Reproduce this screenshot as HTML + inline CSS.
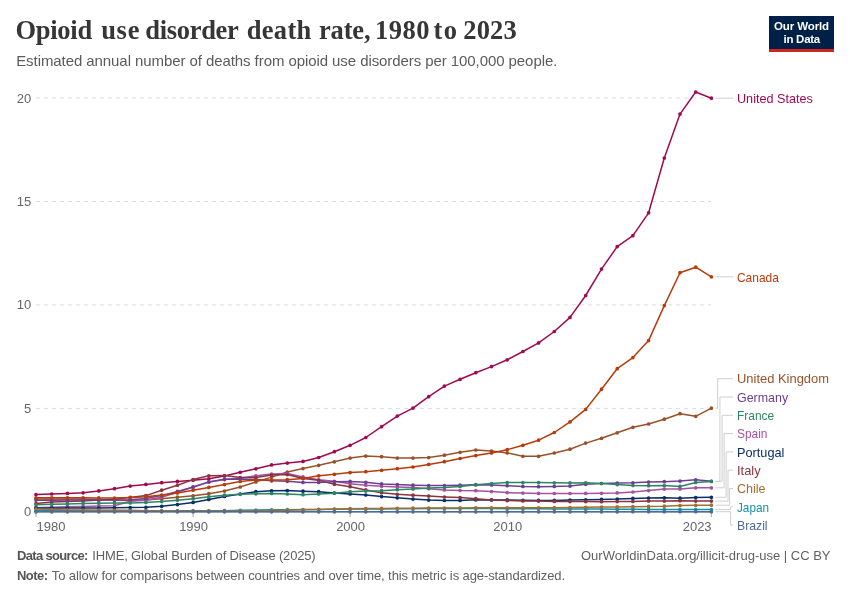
<!DOCTYPE html>
<html lang="en">
<head>
<meta charset="utf-8">
<title>Opioid use disorder death rate, 1980 to 2023</title>
<style>
html,body{margin:0;padding:0;background:#fff;}
body{width:850px;height:600px;overflow:hidden;position:relative;font-family:"Liberation Sans",sans-serif;}
#title{position:absolute;left:0;top:13px;width:700px;height:34px;margin:0;font-family:"Liberation Serif",serif;font-weight:700;font-size:26.5px;line-height:34px;color:#363636;white-space:nowrap;}
#title span{position:absolute;top:0;white-space:nowrap;}
#sub{position:absolute;left:16.2px;top:51.2px;margin:0;font-size:15px;line-height:20px;color:#5b5b5b;white-space:nowrap;letter-spacing:-0.075px;}
#logo{position:absolute;left:769px;top:16px;width:65px;height:36px;background:linear-gradient(to bottom,#002147 0,#002147 33px,#ce261e 33px,#ce261e 36px);box-sizing:border-box;color:#fff;font-weight:700;font-size:11.5px;line-height:12.3px;padding-top:4.4px;white-space:nowrap;}
#logo span{position:absolute;display:block;}
#l1{left:5px;top:4.4px;letter-spacing:-0.11px;}
#l2{left:14.5px;top:16.7px;letter-spacing:-0.27px;}
svg{position:absolute;left:0;top:0;}
.ax{font-family:"Liberation Sans",sans-serif;font-size:13px;fill:#666;}
.lb{font-family:"Liberation Sans",sans-serif;font-size:13px;}
.ft{position:absolute;margin:0;font-size:13px;line-height:16px;color:#616161;white-space:nowrap;}
.ft b{font-weight:700;color:#555;}
</style>
</head>
<body>
<h1 id="title"><span style="left:15.50px;letter-spacing:-0.288px">Opioid</span> <span style="left:101.16px;letter-spacing:0.720px">use</span> <span style="left:145.26px;letter-spacing:-0.309px">disorder</span> <span style="left:246.84px;letter-spacing:0.270px">death</span> <span style="left:319.00px;letter-spacing:-0.180px">rate,</span> <span style="left:375.10px;letter-spacing:0.480px">1980</span> <span style="left:433.42px;letter-spacing:1.440px">to</span> <span style="left:463.34px;letter-spacing:0.120px">2023</span></h1>
<p id="sub">Estimated annual number of deaths from opioid use disorders per 100,000 people.</p>
<div id="logo"><span id="l1">Our World</span><span id="l2">in Data</span></div>
<svg width="850" height="600" viewBox="0 0 850 600">
<line x1="36" x2="711" y1="408.4" y2="408.4" stroke="#dddddd" stroke-width="1" stroke-dasharray="4,4"/>
<line x1="36" x2="711" y1="304.9" y2="304.9" stroke="#dddddd" stroke-width="1" stroke-dasharray="4,4"/>
<line x1="36" x2="711" y1="201.5" y2="201.5" stroke="#dddddd" stroke-width="1" stroke-dasharray="4,4"/>
<line x1="36" x2="711" y1="98.0" y2="98.0" stroke="#dddddd" stroke-width="1" stroke-dasharray="4,4"/>
<line x1="36" x2="711.4" y1="512" y2="512" stroke="#a8a8a8" stroke-width="1"/>
<line x1="36.0" x2="36.0" y1="512" y2="517" stroke="#a8a8a8" stroke-width="1"/>
<line x1="193.1" x2="193.1" y1="512" y2="517" stroke="#a8a8a8" stroke-width="1"/>
<line x1="350.1" x2="350.1" y1="512" y2="517" stroke="#a8a8a8" stroke-width="1"/>
<line x1="507.2" x2="507.2" y1="512" y2="517" stroke="#a8a8a8" stroke-width="1"/>
<line x1="711.4" x2="711.4" y1="512" y2="517" stroke="#a8a8a8" stroke-width="1"/>
<text x="31.3" y="516.4" text-anchor="end" class="ax">0</text>
<text x="31.3" y="412.9" text-anchor="end" class="ax">5</text>
<text x="31.3" y="309.4" text-anchor="end" class="ax">10</text>
<text x="31.3" y="206.0" text-anchor="end" class="ax">15</text>
<text x="31.3" y="102.5" text-anchor="end" class="ax">20</text>
<text x="36.6" y="530.7" text-anchor="start" class="ax">1980</text>
<text x="193.6" y="530.7" text-anchor="middle" class="ax">1990</text>
<text x="350.6" y="530.7" text-anchor="middle" class="ax">2000</text>
<text x="507.7" y="530.7" text-anchor="middle" class="ax">2010</text>
<text x="711.6" y="530.7" text-anchor="end" class="ax">2023</text>
<path d="M715.4,408.2 H717.6 V378.7 H733" fill="none" stroke="#cfcfcf" stroke-width="1"/>
<path d="M715.4,481.3 H719.9 V397.0 H733" fill="none" stroke="#cfcfcf" stroke-width="1"/>
<path d="M715.4,481.4 H722.1 V415.3 H733" fill="none" stroke="#cfcfcf" stroke-width="1"/>
<path d="M715.4,487.8 H724.1 V433.6 H733" fill="none" stroke="#cfcfcf" stroke-width="1"/>
<path d="M715.4,497.3 H726.1 V451.9 H733" fill="none" stroke="#cfcfcf" stroke-width="1"/>
<path d="M715.4,501.1 H728.0 V470.2 H733" fill="none" stroke="#cfcfcf" stroke-width="1"/>
<path d="M715.4,505.2 H729.6 V488.5 H733" fill="none" stroke="#cfcfcf" stroke-width="1"/>
<path d="M715.4,509.6 H730.6 V506.8 H733" fill="none" stroke="#cfcfcf" stroke-width="1"/>
<path d="M715.4,511.7 H730.6 V525.1 H733" fill="none" stroke="#cfcfcf" stroke-width="1"/>
<line x1="715.4" x2="733" y1="98.2" y2="98.2" stroke="#cfcfcf" stroke-width="1"/>
<line x1="715.4" x2="733" y1="276.8" y2="276.8" stroke="#cfcfcf" stroke-width="1"/>
<g fill="#A00A50" stroke="#A00A50"><path d="M36.0,494.5 L51.7,494.0 L67.4,493.4 L83.1,492.8 L98.8,490.9 L114.5,488.7 L130.2,486.1 L145.9,484.4 L161.7,482.7 L177.4,481.4 L193.1,480.2 L208.8,478.8 L224.5,476.1 L240.2,472.3 L255.9,468.8 L271.6,464.9 L287.3,463.1 L303.0,461.4 L318.7,457.5 L334.4,451.7 L350.1,445.3 L365.8,437.5 L381.6,426.7 L397.3,416.1 L413.0,408.1 L428.7,396.7 L444.4,386.1 L460.1,379.3 L475.8,372.7 L491.5,366.6 L507.2,359.8 L522.9,351.5 L538.6,342.9 L554.3,331.5 L570.0,317.4 L585.7,295.5 L601.5,269.1 L617.2,246.6 L632.9,235.7 L648.6,212.8 L664.3,158.0 L680.0,114.1 L695.7,92.0 L711.4,98.2" fill="none" stroke-width="1.5" stroke-linejoin="round" stroke-linecap="round"/>
<path d="M36.0,494.5h0M51.7,494.0h0M67.4,493.4h0M83.1,492.8h0M98.8,490.9h0M114.5,488.7h0M130.2,486.1h0M145.9,484.4h0M161.7,482.7h0M177.4,481.4h0M193.1,480.2h0M208.8,478.8h0M224.5,476.1h0M240.2,472.3h0M255.9,468.8h0M271.6,464.9h0M287.3,463.1h0M303.0,461.4h0M318.7,457.5h0M334.4,451.7h0M350.1,445.3h0M365.8,437.5h0M381.6,426.7h0M397.3,416.1h0M413.0,408.1h0M428.7,396.7h0M444.4,386.1h0M460.1,379.3h0M475.8,372.7h0M491.5,366.6h0M507.2,359.8h0M522.9,351.5h0M538.6,342.9h0M554.3,331.5h0M570.0,317.4h0M585.7,295.5h0M601.5,269.1h0M617.2,246.6h0M632.9,235.7h0M648.6,212.8h0M664.3,158.0h0M680.0,114.1h0M695.7,92.0h0M711.4,98.2h0" fill="none" stroke-width="3.7" stroke-linecap="round"/></g>
<g fill="#9A5129" stroke="#9A5129"><path d="M36.0,499.1 L51.7,499.1 L67.4,499.1 L83.1,499.1 L98.8,499.5 L114.5,500.3 L130.2,500.5 L145.9,499.9 L161.7,498.7 L177.4,497.2 L193.1,495.8 L208.8,493.7 L224.5,491.1 L240.2,487.0 L255.9,481.9 L271.6,477.1 L287.3,472.0 L303.0,468.6 L318.7,465.3 L334.4,461.8 L350.1,458.1 L365.8,456.1 L381.6,456.7 L397.3,458.1 L413.0,458.1 L428.7,457.6 L444.4,455.2 L460.1,452.3 L475.8,450.0 L491.5,451.1 L507.2,452.9 L522.9,456.3 L538.6,456.3 L554.3,453.0 L570.0,449.2 L585.7,443.1 L601.5,438.3 L617.2,432.8 L632.9,427.3 L648.6,424.0 L664.3,419.2 L680.0,413.7 L695.7,416.3 L711.4,408.2" fill="none" stroke-width="1.5" stroke-linejoin="round" stroke-linecap="round"/>
<path d="M36.0,499.1h0M51.7,499.1h0M67.4,499.1h0M83.1,499.1h0M98.8,499.5h0M114.5,500.3h0M130.2,500.5h0M145.9,499.9h0M161.7,498.7h0M177.4,497.2h0M193.1,495.8h0M208.8,493.7h0M224.5,491.1h0M240.2,487.0h0M255.9,481.9h0M271.6,477.1h0M287.3,472.0h0M303.0,468.6h0M318.7,465.3h0M334.4,461.8h0M350.1,458.1h0M365.8,456.1h0M381.6,456.7h0M397.3,458.1h0M413.0,458.1h0M428.7,457.6h0M444.4,455.2h0M460.1,452.3h0M475.8,450.0h0M491.5,451.1h0M507.2,452.9h0M522.9,456.3h0M538.6,456.3h0M554.3,453.0h0M570.0,449.2h0M585.7,443.1h0M601.5,438.3h0M617.2,432.8h0M632.9,427.3h0M648.6,424.0h0M664.3,419.2h0M680.0,413.7h0M695.7,416.3h0M711.4,408.2h0" fill="none" stroke-width="3.7" stroke-linecap="round"/></g>
<g fill="#A652A0" stroke="#A652A0"><path d="M36.0,507.7 L51.7,507.2 L67.4,506.7 L83.1,506.4 L98.8,506.1 L114.5,505.7 L130.2,501.3 L145.9,500.2 L161.7,497.2 L177.4,492.2 L193.1,487.3 L208.8,482.1 L224.5,479.6 L240.2,478.2 L255.9,475.8 L271.6,474.0 L287.3,473.6 L303.0,476.9 L318.7,479.8 L334.4,481.3 L350.1,483.7 L365.8,485.2 L381.6,486.3 L397.3,487.0 L413.0,487.6 L428.7,488.7 L444.4,489.9 L460.1,490.5 L475.8,490.7 L491.5,491.6 L507.2,492.6 L522.9,493.1 L538.6,493.4 L554.3,493.5 L570.0,493.5 L585.7,493.4 L601.5,493.3 L617.2,492.9 L632.9,492.0 L648.6,490.6 L664.3,489.1 L680.0,489.1 L695.7,487.8 L711.4,487.8" fill="none" stroke-width="1.5" stroke-linejoin="round" stroke-linecap="round"/>
<path d="M36.0,507.7h0M51.7,507.2h0M67.4,506.7h0M83.1,506.4h0M98.8,506.1h0M114.5,505.7h0M130.2,501.3h0M145.9,500.2h0M161.7,497.2h0M177.4,492.2h0M193.1,487.3h0M208.8,482.1h0M224.5,479.6h0M240.2,478.2h0M255.9,475.8h0M271.6,474.0h0M287.3,473.6h0M303.0,476.9h0M318.7,479.8h0M334.4,481.3h0M350.1,483.7h0M365.8,485.2h0M381.6,486.3h0M397.3,487.0h0M413.0,487.6h0M428.7,488.7h0M444.4,489.9h0M460.1,490.5h0M475.8,490.7h0M491.5,491.6h0M507.2,492.6h0M522.9,493.1h0M538.6,493.4h0M554.3,493.5h0M570.0,493.5h0M585.7,493.4h0M601.5,493.3h0M617.2,492.9h0M632.9,492.0h0M648.6,490.6h0M664.3,489.1h0M680.0,489.1h0M695.7,487.8h0M711.4,487.8h0" fill="none" stroke-width="3.7" stroke-linecap="round"/></g>
<g fill="#0A2F66" stroke="#0A2F66"><path d="M36.0,507.9 L51.7,508.0 L67.4,508.1 L83.1,508.1 L98.8,508.0 L114.5,507.8 L130.2,507.6 L145.9,507.3 L161.7,506.3 L177.4,504.6 L193.1,502.4 L208.8,499.4 L224.5,496.4 L240.2,494.0 L255.9,491.7 L271.6,490.8 L287.3,490.5 L303.0,491.2 L318.7,491.7 L334.4,493.1 L350.1,494.0 L365.8,495.0 L381.6,496.6 L397.3,497.8 L413.0,499.1 L428.7,500.1 L444.4,500.5 L460.1,500.4 L475.8,499.8 L491.5,499.9 L507.2,499.9 L522.9,500.3 L538.6,500.4 L554.3,500.4 L570.0,500.0 L585.7,499.8 L601.5,499.4 L617.2,499.1 L632.9,498.4 L648.6,498.0 L664.3,497.8 L680.0,498.2 L695.7,497.6 L711.4,497.3" fill="none" stroke-width="1.5" stroke-linejoin="round" stroke-linecap="round"/>
<path d="M36.0,507.9h0M51.7,508.0h0M67.4,508.1h0M83.1,508.1h0M98.8,508.0h0M114.5,507.8h0M130.2,507.6h0M145.9,507.3h0M161.7,506.3h0M177.4,504.6h0M193.1,502.4h0M208.8,499.4h0M224.5,496.4h0M240.2,494.0h0M255.9,491.7h0M271.6,490.8h0M287.3,490.5h0M303.0,491.2h0M318.7,491.7h0M334.4,493.1h0M350.1,494.0h0M365.8,495.0h0M381.6,496.6h0M397.3,497.8h0M413.0,499.1h0M428.7,500.1h0M444.4,500.5h0M460.1,500.4h0M475.8,499.8h0M491.5,499.9h0M507.2,499.9h0M522.9,500.3h0M538.6,500.4h0M554.3,500.4h0M570.0,500.0h0M585.7,499.8h0M601.5,499.4h0M617.2,499.1h0M632.9,498.4h0M648.6,498.0h0M664.3,497.8h0M680.0,498.2h0M695.7,497.6h0M711.4,497.3h0" fill="none" stroke-width="3.7" stroke-linecap="round"/></g>
<g fill="#1493A0" stroke="#1493A0"><path d="M36.0,510.5 L51.7,510.5 L67.4,510.5 L83.1,510.5 L98.8,510.5 L114.5,510.6 L130.2,510.6 L145.9,510.7 L161.7,510.8 L177.4,510.8 L193.1,510.8 L208.8,510.8 L224.5,510.7 L240.2,510.3 L255.9,510.0 L271.6,509.8 L287.3,509.7 L303.0,509.6 L318.7,509.5 L334.4,509.3 L350.1,509.1 L365.8,509.0 L381.6,508.9 L397.3,508.8 L413.0,508.7 L428.7,508.6 L444.4,508.6 L460.1,508.6 L475.8,508.6 L491.5,508.6 L507.2,508.7 L522.9,508.8 L538.6,508.8 L554.3,508.9 L570.0,509.0 L585.7,509.0 L601.5,509.1 L617.2,509.2 L632.9,509.3 L648.6,509.4 L664.3,509.5 L680.0,509.6 L695.7,509.6 L711.4,509.6" fill="none" stroke-width="1.5" stroke-linejoin="round" stroke-linecap="round"/>
<path d="M36.0,510.5h0M51.7,510.5h0M67.4,510.5h0M83.1,510.5h0M98.8,510.5h0M114.5,510.6h0M130.2,510.6h0M145.9,510.7h0M161.7,510.8h0M177.4,510.8h0M193.1,510.8h0M208.8,510.8h0M224.5,510.7h0M240.2,510.3h0M255.9,510.0h0M271.6,509.8h0M287.3,509.7h0M303.0,509.6h0M318.7,509.5h0M334.4,509.3h0M350.1,509.1h0M365.8,509.0h0M381.6,508.9h0M397.3,508.8h0M413.0,508.7h0M428.7,508.6h0M444.4,508.6h0M460.1,508.6h0M475.8,508.6h0M491.5,508.6h0M507.2,508.7h0M522.9,508.8h0M538.6,508.8h0M554.3,508.9h0M570.0,509.0h0M585.7,509.0h0M601.5,509.1h0M617.2,509.2h0M632.9,509.3h0M648.6,509.4h0M664.3,509.5h0M680.0,509.6h0M695.7,509.6h0M711.4,509.6h0" fill="none" stroke-width="3.7" stroke-linecap="round"/></g>
<g fill="#8B3340" stroke="#8B3340"><path d="M36.0,503.6 L51.7,502.0 L67.4,501.6 L83.1,500.9 L98.8,500.1 L114.5,499.1 L130.2,497.6 L145.9,495.6 L161.7,490.2 L177.4,485.2 L193.1,479.6 L208.8,475.8 L224.5,475.5 L240.2,477.5 L255.9,477.5 L271.6,475.1 L287.3,474.6 L303.0,478.4 L318.7,480.3 L334.4,484.3 L350.1,486.7 L365.8,489.9 L381.6,492.7 L397.3,494.3 L413.0,495.2 L428.7,496.1 L444.4,497.0 L460.1,497.6 L475.8,498.7 L491.5,499.9 L507.2,500.6 L522.9,501.0 L538.6,501.1 L554.3,501.4 L570.0,501.6 L585.7,501.6 L601.5,501.7 L617.2,501.6 L632.9,501.4 L648.6,501.0 L664.3,501.1 L680.0,500.7 L695.7,501.1 L711.4,501.1" fill="none" stroke-width="1.5" stroke-linejoin="round" stroke-linecap="round"/>
<path d="M36.0,503.6h0M51.7,502.0h0M67.4,501.6h0M83.1,500.9h0M98.8,500.1h0M114.5,499.1h0M130.2,497.6h0M145.9,495.6h0M161.7,490.2h0M177.4,485.2h0M193.1,479.6h0M208.8,475.8h0M224.5,475.5h0M240.2,477.5h0M255.9,477.5h0M271.6,475.1h0M287.3,474.6h0M303.0,478.4h0M318.7,480.3h0M334.4,484.3h0M350.1,486.7h0M365.8,489.9h0M381.6,492.7h0M397.3,494.3h0M413.0,495.2h0M428.7,496.1h0M444.4,497.0h0M460.1,497.6h0M475.8,498.7h0M491.5,499.9h0M507.2,500.6h0M522.9,501.0h0M538.6,501.1h0M554.3,501.4h0M570.0,501.6h0M585.7,501.6h0M601.5,501.7h0M617.2,501.6h0M632.9,501.4h0M648.6,501.0h0M664.3,501.1h0M680.0,500.7h0M695.7,501.1h0M711.4,501.1h0" fill="none" stroke-width="3.7" stroke-linecap="round"/></g>
<g fill="#6D3E91" stroke="#6D3E91"><path d="M36.0,500.2 L51.7,500.2 L67.4,500.1 L83.1,500.0 L98.8,499.9 L114.5,499.9 L130.2,499.7 L145.9,498.4 L161.7,495.6 L177.4,491.4 L193.1,486.9 L208.8,481.9 L224.5,479.3 L240.2,479.1 L255.9,479.4 L271.6,480.8 L287.3,481.3 L303.0,482.4 L318.7,482.4 L334.4,481.8 L350.1,481.4 L365.8,482.3 L381.6,483.9 L397.3,484.6 L413.0,485.2 L428.7,485.6 L444.4,485.6 L460.1,485.2 L475.8,484.7 L491.5,484.9 L507.2,485.7 L522.9,486.4 L538.6,486.7 L554.3,486.4 L570.0,486.1 L585.7,484.3 L601.5,483.5 L617.2,483.1 L632.9,482.8 L648.6,482.1 L664.3,481.7 L680.0,481.1 L695.7,479.8 L711.4,481.3" fill="none" stroke-width="1.5" stroke-linejoin="round" stroke-linecap="round"/>
<path d="M36.0,500.2h0M51.7,500.2h0M67.4,500.1h0M83.1,500.0h0M98.8,499.9h0M114.5,499.9h0M130.2,499.7h0M145.9,498.4h0M161.7,495.6h0M177.4,491.4h0M193.1,486.9h0M208.8,481.9h0M224.5,479.3h0M240.2,479.1h0M255.9,479.4h0M271.6,480.8h0M287.3,481.3h0M303.0,482.4h0M318.7,482.4h0M334.4,481.8h0M350.1,481.4h0M365.8,482.3h0M381.6,483.9h0M397.3,484.6h0M413.0,485.2h0M428.7,485.6h0M444.4,485.6h0M460.1,485.2h0M475.8,484.7h0M491.5,484.9h0M507.2,485.7h0M522.9,486.4h0M538.6,486.7h0M554.3,486.4h0M570.0,486.1h0M585.7,484.3h0M601.5,483.5h0M617.2,483.1h0M632.9,482.8h0M648.6,482.1h0M664.3,481.7h0M680.0,481.1h0M695.7,479.8h0M711.4,481.3h0" fill="none" stroke-width="3.7" stroke-linecap="round"/></g>
<g fill="#2D8663" stroke="#2D8663"><path d="M36.0,504.8 L51.7,504.3 L67.4,503.9 L83.1,503.6 L98.8,503.2 L114.5,503.1 L130.2,502.9 L145.9,502.4 L161.7,501.6 L177.4,500.2 L193.1,498.7 L208.8,496.8 L224.5,495.2 L240.2,494.3 L255.9,493.8 L271.6,493.4 L287.3,494.0 L303.0,494.7 L318.7,494.0 L334.4,493.2 L350.1,491.7 L365.8,491.1 L381.6,490.7 L397.3,489.7 L413.0,489.1 L428.7,488.1 L444.4,487.6 L460.1,486.4 L475.8,484.8 L491.5,483.5 L507.2,482.6 L522.9,482.6 L538.6,482.6 L554.3,482.8 L570.0,482.9 L585.7,482.8 L601.5,483.5 L617.2,484.6 L632.9,485.5 L648.6,485.7 L664.3,485.6 L680.0,486.4 L695.7,482.5 L711.4,481.4" fill="none" stroke-width="1.5" stroke-linejoin="round" stroke-linecap="round"/>
<path d="M36.0,504.8h0M51.7,504.3h0M67.4,503.9h0M83.1,503.6h0M98.8,503.2h0M114.5,503.1h0M130.2,502.9h0M145.9,502.4h0M161.7,501.6h0M177.4,500.2h0M193.1,498.7h0M208.8,496.8h0M224.5,495.2h0M240.2,494.3h0M255.9,493.8h0M271.6,493.4h0M287.3,494.0h0M303.0,494.7h0M318.7,494.0h0M334.4,493.2h0M350.1,491.7h0M365.8,491.1h0M381.6,490.7h0M397.3,489.7h0M413.0,489.1h0M428.7,488.1h0M444.4,487.6h0M460.1,486.4h0M475.8,484.8h0M491.5,483.5h0M507.2,482.6h0M522.9,482.6h0M538.6,482.6h0M554.3,482.8h0M570.0,482.9h0M585.7,482.8h0M601.5,483.5h0M617.2,484.6h0M632.9,485.5h0M648.6,485.7h0M664.3,485.6h0M680.0,486.4h0M695.7,482.5h0M711.4,481.4h0" fill="none" stroke-width="3.7" stroke-linecap="round"/></g>
<g fill="#A26F30" stroke="#A26F30"><path d="M36.0,509.1 L51.7,509.5 L67.4,509.9 L83.1,510.1 L98.8,510.2 L114.5,510.3 L130.2,510.5 L145.9,510.7 L161.7,510.8 L177.4,510.9 L193.1,510.9 L208.8,510.9 L224.5,510.9 L240.2,510.9 L255.9,510.8 L271.6,510.6 L287.3,510.2 L303.0,509.8 L318.7,509.4 L334.4,509.0 L350.1,508.7 L365.8,508.6 L381.6,508.4 L397.3,508.3 L413.0,508.2 L428.7,508.1 L444.4,508.0 L460.1,507.9 L475.8,507.8 L491.5,507.8 L507.2,507.8 L522.9,507.8 L538.6,507.8 L554.3,507.7 L570.0,507.5 L585.7,507.3 L601.5,507.1 L617.2,506.9 L632.9,506.7 L648.6,506.4 L664.3,506.2 L680.0,505.6 L695.7,505.3 L711.4,505.2" fill="none" stroke-width="1.5" stroke-linejoin="round" stroke-linecap="round"/>
<path d="M36.0,509.1h0M51.7,509.5h0M67.4,509.9h0M83.1,510.1h0M98.8,510.2h0M114.5,510.3h0M130.2,510.5h0M145.9,510.7h0M161.7,510.8h0M177.4,510.9h0M193.1,510.9h0M208.8,510.9h0M224.5,510.9h0M240.2,510.9h0M255.9,510.8h0M271.6,510.6h0M287.3,510.2h0M303.0,509.8h0M318.7,509.4h0M334.4,509.0h0M350.1,508.7h0M365.8,508.6h0M381.6,508.4h0M397.3,508.3h0M413.0,508.2h0M428.7,508.1h0M444.4,508.0h0M460.1,507.9h0M475.8,507.8h0M491.5,507.8h0M507.2,507.8h0M522.9,507.8h0M538.6,507.8h0M554.3,507.7h0M570.0,507.5h0M585.7,507.3h0M601.5,507.1h0M617.2,506.9h0M632.9,506.7h0M648.6,506.4h0M664.3,506.2h0M680.0,505.6h0M695.7,505.3h0M711.4,505.2h0" fill="none" stroke-width="3.7" stroke-linecap="round"/></g>
<g fill="#B83B0B" stroke="#B83B0B"><path d="M36.0,497.8 L51.7,497.8 L67.4,497.8 L83.1,497.8 L98.8,497.9 L114.5,498.0 L130.2,497.4 L145.9,496.7 L161.7,495.1 L177.4,492.9 L193.1,490.2 L208.8,487.4 L224.5,484.6 L240.2,481.5 L255.9,479.9 L271.6,479.9 L287.3,479.7 L303.0,478.4 L318.7,475.8 L334.4,474.3 L350.1,472.6 L365.8,471.7 L381.6,470.3 L397.3,468.7 L413.0,467.0 L428.7,464.4 L444.4,461.7 L460.1,458.5 L475.8,455.6 L491.5,452.9 L507.2,449.7 L522.9,445.3 L538.6,440.2 L554.3,432.5 L570.0,421.9 L585.7,409.4 L601.5,389.2 L617.2,368.7 L632.9,357.6 L648.6,340.6 L664.3,305.6 L680.0,272.7 L695.7,267.2 L711.4,276.8" fill="none" stroke-width="1.5" stroke-linejoin="round" stroke-linecap="round"/>
<path d="M36.0,497.8h0M51.7,497.8h0M67.4,497.8h0M83.1,497.8h0M98.8,497.9h0M114.5,498.0h0M130.2,497.4h0M145.9,496.7h0M161.7,495.1h0M177.4,492.9h0M193.1,490.2h0M208.8,487.4h0M224.5,484.6h0M240.2,481.5h0M255.9,479.9h0M271.6,479.9h0M287.3,479.7h0M303.0,478.4h0M318.7,475.8h0M334.4,474.3h0M350.1,472.6h0M365.8,471.7h0M381.6,470.3h0M397.3,468.7h0M413.0,467.0h0M428.7,464.4h0M444.4,461.7h0M460.1,458.5h0M475.8,455.6h0M491.5,452.9h0M507.2,449.7h0M522.9,445.3h0M538.6,440.2h0M554.3,432.5h0M570.0,421.9h0M585.7,409.4h0M601.5,389.2h0M617.2,368.7h0M632.9,357.6h0M648.6,340.6h0M664.3,305.6h0M680.0,272.7h0M695.7,267.2h0M711.4,276.8h0" fill="none" stroke-width="3.7" stroke-linecap="round"/></g>
<g fill="#4C6A9C" stroke="#4C6A9C"><path d="M36.0,511.8 L51.7,511.8 L67.4,511.8 L83.1,511.8 L98.8,511.8 L114.5,511.8 L130.2,511.8 L145.9,511.8 L161.7,511.8 L177.4,511.8 L193.1,511.8 L208.8,511.8 L224.5,511.8 L240.2,511.8 L255.9,511.8 L271.6,511.8 L287.3,511.8 L303.0,511.8 L318.7,511.8 L334.4,511.8 L350.1,511.8 L365.8,511.8 L381.6,511.8 L397.3,511.8 L413.0,511.8 L428.7,511.8 L444.4,511.8 L460.1,511.8 L475.8,511.8 L491.5,511.8 L507.2,511.8 L522.9,511.8 L538.6,511.8 L554.3,511.8 L570.0,511.8 L585.7,511.8 L601.5,511.8 L617.2,511.8 L632.9,511.7 L648.6,511.7 L664.3,511.7 L680.0,511.7 L695.7,511.7 L711.4,511.7" fill="none" stroke-width="1.5" stroke-linejoin="round" stroke-linecap="round"/>
<path d="M36.0,511.8h0M51.7,511.8h0M67.4,511.8h0M83.1,511.8h0M98.8,511.8h0M114.5,511.8h0M130.2,511.8h0M145.9,511.8h0M161.7,511.8h0M177.4,511.8h0M193.1,511.8h0M208.8,511.8h0M224.5,511.8h0M240.2,511.8h0M255.9,511.8h0M271.6,511.8h0M287.3,511.8h0M303.0,511.8h0M318.7,511.8h0M334.4,511.8h0M350.1,511.8h0M365.8,511.8h0M381.6,511.8h0M397.3,511.8h0M413.0,511.8h0M428.7,511.8h0M444.4,511.8h0M460.1,511.8h0M475.8,511.8h0M491.5,511.8h0M507.2,511.8h0M522.9,511.8h0M538.6,511.8h0M554.3,511.8h0M570.0,511.8h0M585.7,511.8h0M601.5,511.8h0M617.2,511.8h0M632.9,511.7h0M648.6,511.7h0M664.3,511.7h0M680.0,511.7h0M695.7,511.7h0M711.4,511.7h0" fill="none" stroke-width="3.7" stroke-linecap="round"/></g>
<text x="737" y="383.4" class="lb" fill="#9A5129" textLength="92" lengthAdjust="spacingAndGlyphs">United Kingdom</text>
<text x="737" y="401.7" class="lb" fill="#6D3E91" textLength="51.1" lengthAdjust="spacingAndGlyphs">Germany</text>
<text x="737" y="420.0" class="lb" fill="#2D8663" textLength="37.1" lengthAdjust="spacingAndGlyphs">France</text>
<text x="737" y="438.3" class="lb" fill="#A652A0" textLength="30.4" lengthAdjust="spacingAndGlyphs">Spain</text>
<text x="737" y="456.6" class="lb" fill="#0A2F66" textLength="47.4" lengthAdjust="spacingAndGlyphs">Portugal</text>
<text x="737" y="474.9" class="lb" fill="#8B3340" textLength="23.6" lengthAdjust="spacingAndGlyphs">Italy</text>
<text x="737" y="493.2" class="lb" fill="#A26F30" textLength="28.6" lengthAdjust="spacingAndGlyphs">Chile</text>
<text x="737" y="511.5" class="lb" fill="#1493A0" textLength="32" lengthAdjust="spacingAndGlyphs">Japan</text>
<text x="737" y="529.8" class="lb" fill="#4C6A9C" textLength="30.6" lengthAdjust="spacingAndGlyphs">Brazil</text>
<text x="737" y="102.9" class="lb" fill="#A00A50" textLength="75.8" lengthAdjust="spacingAndGlyphs">United States</text>
<text x="737" y="281.5" class="lb" fill="#B83B0B" textLength="41.8" lengthAdjust="spacingAndGlyphs">Canada</text>
</svg>
<p class="ft" id="f1" style="left:17px;top:547.8px;"><b id="f1b" style="letter-spacing:-0.675px">Data source:</b> <span id="f1r" style="position:absolute;left:75.3px;top:0;letter-spacing:-0.157px">IHME, Global Burden of Disease (2025)</span></p>
<p class="ft" id="f2" style="left:581px;top:547.8px;">OurWorldinData.org/illicit-drug-use | CC BY</p>
<p class="ft" id="f3" style="left:17px;top:568px;"><b id="f3b" style="letter-spacing:-0.52px">Note:</b> <span id="f3r" style="position:absolute;left:34.8px;top:0;letter-spacing:-0.094px">To allow for comparisons between countries and over time, this metric is age-standardized.</span></p>
</body>
</html>
